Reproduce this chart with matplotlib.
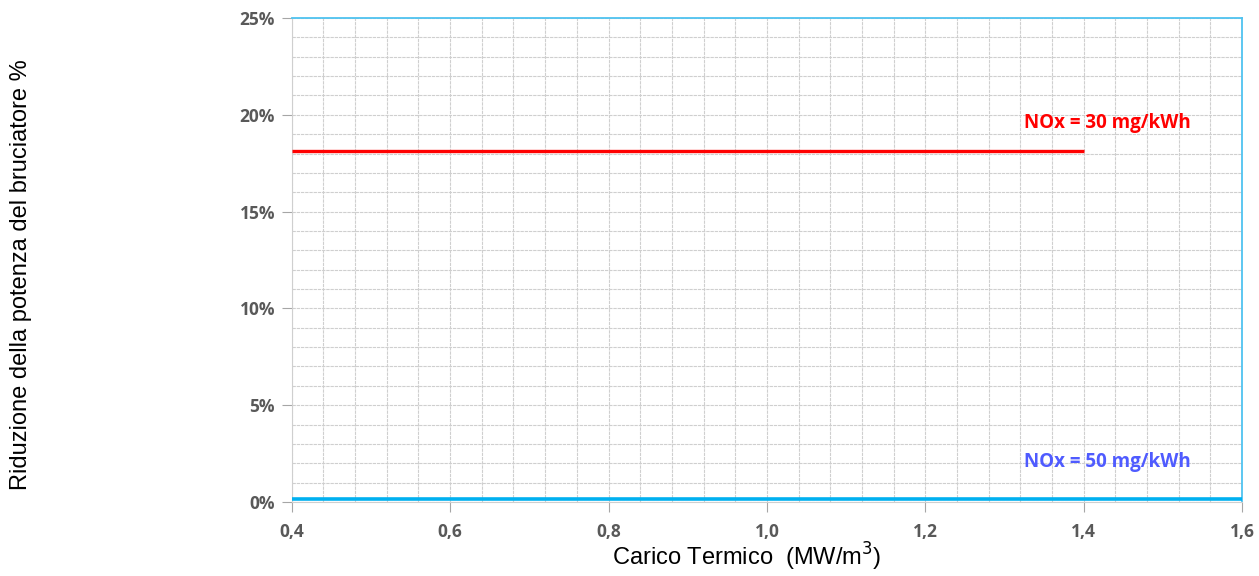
import numpy as np
import matplotlib.pyplot as plt
from matplotlib.ticker import MultipleLocator, FuncFormatter

# data
x_30 = [0.4, 1.4]
y_30 = [18.15, 18.15]
x_50 = [0.4, 1.6]
y_50 = [0.15, 0.15]
xticks = [0.4, 0.6, 0.8, 1.0, 1.2, 1.4, 1.6]
yticks = [0, 5, 10, 15, 20, 25]

fig = plt.figure(figsize=(12.59, 5.76), dpi=100)
ax = fig.add_axes([0.2317, 0.1285, 0.9866 - 0.2317, 0.96875 - 0.1285])

ax.plot(x_30, y_30, color='#FF0000', lw=2.4, solid_capstyle='butt', zorder=3)
ax.plot(x_50, y_50, color='#00B0F0', lw=2.6, solid_capstyle='butt', zorder=3, clip_on=False)

ax.set_xlim(0.4, 1.6)
ax.set_ylim(0, 25)
ax.set_xticks(xticks)
ax.set_yticks(yticks)
ax.xaxis.set_minor_locator(MultipleLocator(0.04))
ax.yaxis.set_minor_locator(MultipleLocator(1))
ax.grid(which='both', color='#CFCFCF', lw=0.8, ls=(0, (3, 0.8)))
ax.set_axisbelow(True)

ax.xaxis.set_major_formatter(FuncFormatter(lambda v, p: f"{v:.1f}".replace('.', ',')))
ax.yaxis.set_major_formatter(FuncFormatter(lambda v, p: f"{v:.0f}%"))

tick_font = dict(family='Open Sans', weight='bold', size=12.5)
for lab in ax.get_xticklabels() + ax.get_yticklabels():
    lab.set(**tick_font)
ax.tick_params(which='major', length=7, color='#A6A6A6', labelcolor='#595959', direction='out')
ax.tick_params(axis='x', pad=8)
ax.tick_params(axis='y', pad=5)
ax.tick_params(which='minor', length=0)

for s in ['left', 'bottom']:
    ax.spines[s].set_color('#CFCFCF')
for s in ['top', 'right']:
    ax.spines[s].set_color('#4FC3F0')
    ax.spines[s].set_linewidth(1.3)

ax.text(1.325, 19.6, 'NOx = 30 mg/kWh', color='#FF0000', family='Open Sans',
        weight='bold', size=13.5, va='center')
ax.text(1.325, 2.05, 'NOx = 50 mg/kWh', color='#4F5BFF', family='Open Sans',
        weight='bold', size=13.5, va='center')

fig.text(0.593, 0.005, 'Carico Termico  (MW/m$^3$)', family='Liberation Sans',
         size=17, ha='center', va='bottom')
fig.text(0.017, 0.523, 'Riduzione della potenza del bruciatore %', family='Liberation Sans',
         size=17, rotation=90, ha='center', va='center')

fig.savefig('out.png', dpi=100)
